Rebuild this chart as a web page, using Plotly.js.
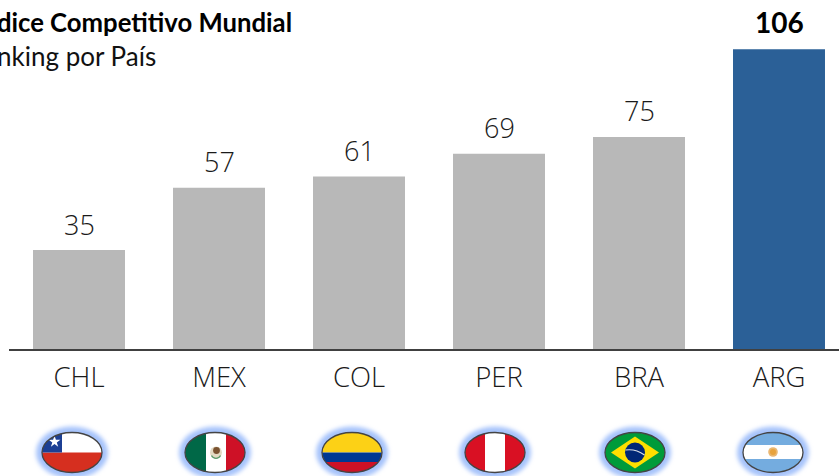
<!DOCTYPE html>
<html><head><meta charset="utf-8">
<script src="https://cdn.plot.ly/plotly-3.0.1.min.js"></script>
<style>html,body{margin:0;padding:0;background:#fff;overflow:hidden}</style>
</head><body><div id="chart" style="width:839px;height:476px"></div>
<script>
const categories = ['CHL','MEX','COL','PER','BRA','ARG'];
const ranking = [35,57,61,69,75,106];
const barColors = ['#b8b8b8','#b8b8b8','#b8b8b8','#b8b8b8','#b8b8b8','#2b6097'];
const titleLine1 = 'Índice Competitivo Mundial';
const titleLine2 = 'Ranking por País';
const FONT = '"Open Sans", "Noto Sans", sans-serif';
const TITLE_FONT = 'Lato, "Open Sans", sans-serif';

const flagCentersPx = [72,215,352,495,635,773];
function flagSvg(inner){
  const svg = `<svg xmlns="http://www.w3.org/2000/svg" width="384" height="288" viewBox="0 0 96 72">
<defs><filter id="g" x="-30%" y="-30%" width="160%" height="160%"><feGaussianBlur stdDeviation="2.2"/></filter>
<clipPath id="c"><ellipse cx="42" cy="32" rx="30" ry="20"/></clipPath></defs>
<g transform="translate(6,4)">
<ellipse cx="42" cy="32" rx="36" ry="26" fill="#a6c3fb" filter="url(#g)"/>
<ellipse cx="42" cy="32" rx="30" ry="20" fill="#fff"/>
<g clip-path="url(#c)">${inner}</g>
<ellipse cx="42" cy="32" rx="30" ry="20" fill="none" stroke="#444" stroke-width="1.3"/></g></svg>`;
  return 'data:image/svg+xml;charset=utf-8,' + encodeURIComponent(svg);
}
const flags = [
 `<rect x="10" y="10" width="64" height="22" fill="#fff"/><rect x="10" y="32" width="64" height="22" fill="#d62f1f"/><rect x="10" y="10" width="22" height="22" fill="#1c3f94"/><polygon points="24.5,15 25.9,19.3 30.4,19.3 26.8,22 28.2,26.2 24.5,23.6 20.9,26.2 22.3,22 18.7,19.3 23.1,19.3" fill="#fff"/>`,
 `<rect x="10" y="10" width="23" height="44" fill="#006847"/><rect x="33" y="10" width="20" height="44" fill="#fff"/><rect x="53" y="10" width="21" height="44" fill="#ce1126"/><circle cx="43" cy="32" r="6" fill="#e3d9c3"/><circle cx="43.5" cy="30" r="3.4" fill="#7a5230"/><path d="M38.5 35a5 5 0 0 0 9 0" fill="none" stroke="#5b9a6b" stroke-width="1.2"/>`,
 `<rect x="10" y="10" width="64" height="22" fill="#fcd116"/><rect x="10" y="32" width="64" height="9.5" fill="#003893"/><rect x="10" y="41.5" width="64" height="12.5" fill="#ce1126"/>`,
 `<rect x="10" y="10" width="22" height="44" fill="#d91023"/><rect x="32" y="10" width="20" height="44" fill="#fff"/><rect x="52" y="10" width="22" height="44" fill="#d91023"/>`,
 `<rect x="10" y="10" width="64" height="44" fill="#009b3a"/><polygon points="42,16 66,32 42,48 18,32" fill="#fedf00"/><circle cx="42" cy="32" r="10" fill="#002776"/><path d="M32.5 29.5q10-1.5 19 5" fill="none" stroke="#d8dfe8" stroke-width="1.1"/>`,
 `<rect x="10" y="10" width="64" height="44" fill="#74acdf"/><rect x="10" y="24.5" width="64" height="14" fill="#fff"/><circle cx="42" cy="31.5" r="4.8" fill="#eab772"/><circle cx="42" cy="31.5" r="3" fill="#e8a33d"/>`
];

const PLOT_L = 9, PLOT_W = 830, PLOT_H = 349;
const images = flags.map((f,i)=>({
  source: flagSvg(f), xref:'paper', yref:'paper',
  x:(flagCentersPx[i]-PLOT_L)/PLOT_W, y:(PLOT_H-452.5)/PLOT_H,
  sizex:96/PLOT_W, sizey:72/PLOT_H, xanchor:'center', yanchor:'middle',
  sizing:'stretch', layer:'above'
}));

const valueLabels = categories.map((c,i)=>({
  x:c, y:ranking[i], xref:'x', yref:'y', text: ranking[i]===106 ? '<b>106</b>' : String(ranking[i]),
  showarrow:false, yanchor:'middle', yshift:ranking[i]===106 ? 27 : 26,
  font: ranking[i]===106 ? {family:TITLE_FONT,size:28,color:'#000'} : {family:FONT,size:27,color:'#1a1a1a',weight:300}
}));
const titles = [
 {text:'<b>'+titleLine1+'</b>', xref:'paper', yref:'paper', x:(294-PLOT_L)/PLOT_W, y:(PLOT_H-22)/PLOT_H, xanchor:'right', yanchor:'middle', showarrow:false, align:'right', font:{family:TITLE_FONT,size:25.7,color:'#000'}},
 {text:titleLine2, xref:'paper', yref:'paper', x:(158-PLOT_L)/PLOT_W, y:(PLOT_H-56)/PLOT_H, xanchor:'right', yanchor:'middle', showarrow:false, align:'right', font:{family:TITLE_FONT,size:26,color:'#111'}}
];

Plotly.newPlot('chart',[{
  type:'bar', x:categories, y:ranking, marker:{color:barColors,line:{width:0}}, hoverinfo:'skip'
}],{
  width:839, height:476, margin:{l:PLOT_L,r:0,t:0,b:476-PLOT_H,pad:0},
  paper_bgcolor:'#fff', plot_bgcolor:'#fff', showlegend:false, bargap:0.343,
  xaxis:{type:'category',range:[-0.5,5.4286],showgrid:false,zeroline:false,showline:true,linecolor:'#404040',linewidth:1.5,
    ticks:'outside',ticklen:3,tickcolor:'rgba(0,0,0,0)',tickfont:{family:FONT,size:27.5,color:'#1a1a1a',weight:300}},
  yaxis:{range:[0,123.4],visible:false,fixedrange:true},
  images:images, annotations:valueLabels.concat(titles)
},{displayModeBar:false,staticPlot:true});
</script></body></html>
